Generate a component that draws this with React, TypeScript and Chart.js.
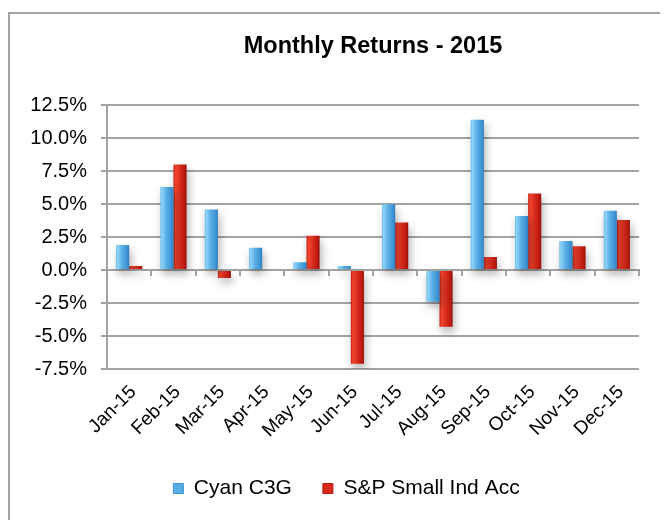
import React, { useEffect, useRef } from "react";
import { Chart, registerables } from "chart.js";

Chart.register(...registerables);

const categories = ["Jan-15", "Feb-15", "Mar-15", "Apr-15", "May-15", "Jun-15", "Jul-15", "Aug-15", "Sep-15", "Oct-15", "Nov-15", "Dec-15"];
const cyanC3G = [1.9, 6.3, 4.6, 1.7, 0.6, 0.3, 5.0, -2.4, 11.4, 4.1, 2.2, 4.5];
const spSmallInd = [0.3, 8.0, -0.6, 0, 2.6, -7.1, 3.6, -4.3, 1.0, 5.8, 1.8, 3.8];
const seriesNames = ["Cyan C3G", "S&P Small Ind Acc"];
const yMin = -7.5;
const yMax = 12.5;
const yStep = 2.5;

const CAT_PCT = 0.59;
const LEGEND_SHIFT = 22;
const FONT = "'Liberation Sans', Arial, Helvetica, sans-serif";

const blueStops: [number, string][] = [
  [0, "#5fb6ec"],
  [0.12, "#8fd3f8"],
  [0.45, "#5aafe6"],
  [0.85, "#3d93d4"],
  [1, "#2c79bb"],
];
const redStops: [number, string][] = [
  [0, "#c41a10"],
  [0.15, "#f0452f"],
  [0.5, "#da2c1d"],
  [0.85, "#b9190f"],
  [1, "#930c06"],
];

function barFill(stops: [number, string][], solid: string) {
  return (c: any) => {
    if (c.type !== "data") return solid;
    const chart = c.chart;
    const xs = chart.scales && chart.scales.x;
    if (!xs || !chart.chartArea) return solid;
    const center = xs.getPixelForValue(c.dataIndex);
    const catW = xs.width / categories.length;
    const group = catW * CAT_PCT;
    const barW = group / 2;
    const left = center - group / 2 + c.datasetIndex * barW;
    if (!isFinite(left)) return solid;
    const g = chart.ctx.createLinearGradient(left, 0, left + barW, 0);
    stops.forEach(([o, col]) => g.addColorStop(o, col));
    return g;
  };
}

const shadowPlugin = {
  id: "barShadow",
  afterLayout(chart: any) {
    if (chart.legend) {
      chart.legend.left += LEGEND_SHIFT;
      chart.legend.right += LEGEND_SHIFT;
    }
  },
  beforeDatasetsDraw(chart: any) {
    const ctx = chart.ctx;
    ctx.save();
    ctx.shadowColor = "rgba(0,0,0,0.3)";
    ctx.shadowBlur = 8;
    ctx.shadowOffsetX = 2;
    ctx.shadowOffsetY = 5;
  },
  afterDatasetsDraw(chart: any) {
    chart.ctx.restore();
  },
};

export default function App() {
  const ref = useRef<HTMLCanvasElement | null>(null);

  useEffect(() => {
    if (!ref.current) return;
    const gridColor = "#a3a3a3";
    const chart = new Chart(ref.current, {
      type: "bar",
      data: {
        labels: categories,
        datasets: [
          {
            label: seriesNames[0],
            data: cyanC3G,
            backgroundColor: barFill(blueStops, "#58aee6") as any,
            borderWidth: 0,
            categoryPercentage: CAT_PCT,
            barPercentage: 1,
            xAxisID: "x",
          },
          {
            label: seriesNames[1],
            data: spSmallInd,
            backgroundColor: barFill(redStops, "#d82a1d") as any,
            borderWidth: 0,
            categoryPercentage: CAT_PCT,
            barPercentage: 1,
            xAxisID: "x",
          },
        ],
      },
      plugins: [shadowPlugin],
      options: {
        responsive: false,
        animation: false,
        devicePixelRatio: 1,
        layout: { padding: { left: 0, right: 44, top: 0, bottom: 11 } },
        plugins: {
          title: {
            display: true,
            text: "Monthly Returns - 2015",
            color: "#000",
            fullSize: false,
            font: { family: FONT, size: 23.5, weight: "bold" },
            padding: { top: 18, bottom: 45 },
          },
          legend: {
            position: "bottom",
            labels: {
              color: "#000",
              font: { family: FONT, size: 21 },
              boxWidth: 10,
              boxHeight: 10,
              padding: 31,
              generateLabels: () =>
                seriesNames.map((n, i) => ({
                  text: n,
                  fillStyle: i === 0 ? "#58aee6" : "#d82a1d",
                  strokeStyle: i === 0 ? "#3d93d4" : "#b9190f",
                  lineWidth: 1,
                  hidden: false,
                  datasetIndex: i,
                  fontColor: "#000",
                })),
            },
          },
          tooltip: { enabled: false },
        },
        scales: {
          x: {
            type: "category",
            position: "bottom",
            offset: true,
            grid: { display: false, drawTicks: false },
            border: { display: false },
            ticks: {
              color: "#000",
              font: { family: FONT, size: 19 },
              minRotation: 45,
              maxRotation: 45,
              padding: 12,
              labelOffset: 4,
              autoSkip: false,
            },
            afterFit: (s: any) => {
              s.height = 78;
            },
          },
          x2: {
            type: "category",
            labels: categories,
            position: { y: 0 } as any,
            offset: true,
            grid: {
              offset: true,
              drawOnChartArea: false,
              drawTicks: true,
              tickLength: 5,
              color: gridColor,
              lineWidth: 2,
            },
            border: { display: true, color: gridColor, width: 2 },
            ticks: { display: false },
          },
          y: {
            min: yMin,
            max: yMax,
            grid: { color: gridColor, lineWidth: 2, tickLength: 6 },
            border: { display: true, color: gridColor, width: 2 },
            ticks: {
              stepSize: yStep,
              color: "#000",
              font: { family: FONT, size: 20 },
              padding: 14,
              callback: (v: any) => Number(v).toFixed(1) + "%",
            },
            afterFit: (s: any) => {
              s.width = 97;
            },
          },
        },
      },
    });
    return () => chart.destroy();
  }, []);

  return (
    <div style={{ position: "relative", width: 660, height: 512, overflow: "hidden" }}>
      <div
        style={{
          position: "absolute",
          left: 0,
          top: 4,
          width: 760,
          height: 560,
          border: "2px solid #a3a3a3",
          boxSizing: "border-box",
          background: "#fff",
        }}
      >
        <canvas
          ref={ref}
          width={673}
          height={506}
          style={{ display: "block", width: 673, height: 506 }}
        />
      </div>
    </div>
  );
}
